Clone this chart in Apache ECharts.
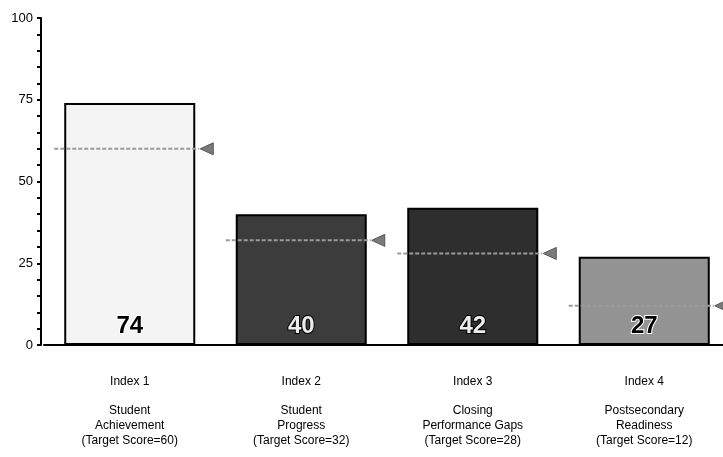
<!DOCTYPE html>
<html>
<head>
<meta charset="utf-8">
<script src="https://cdn.jsdelivr.net/npm/echarts@6/dist/echarts.min.js"></script>
<style>html,body{margin:0;padding:0;background:#fff}#c{width:723px;height:457px}</style>
</head>
<body>
<div id="c"></div>
<script>
const categories = [
  'Index 1\n\nStudent\nAchievement\n(Target Score=60)',
  'Index 2\n\nStudent\nProgress\n(Target Score=32)',
  'Index 3\n\nClosing\nPerformance Gaps\n(Target Score=28)',
  'Index 4\n\nPostsecondary\nReadiness\n(Target Score=12)'
];
const scores = [74, 40, 42, 27];
const targets = [60, 32, 28, 12];
const barColors = ['#f4f4f4', '#3c3c3c', '#2e2e2e', '#939393'];
const labelColors = ['#000', '#ececec', '#ececec', '#000'];
const labelBorders = ['#fff', '#000', '#000', '#fff'];
const yTicks = [0, 25, 50, 75, 100];

const BAR_FRAC = 0.764;
const chart = echarts.init(document.getElementById('c'));
chart.setOption({
  animation: false,
  grid: { left: 44, width: 686, top: 18, bottom: 112, outerBoundsMode: 'none', containLabel: false },
  xAxis: {
    type: 'category',
    data: categories,
    axisLine: { lineStyle: { color: '#000', width: 2 } },
    axisTick: { show: false },
    axisLabel: {
      margin: 29, color: '#000', fontSize: 12, lineHeight: 14.75,
      fontFamily: 'Liberation Sans, Arial, sans-serif', interval: 0, align: 'center'
    }
  },
  yAxis: {
    type: 'value', min: yTicks[0], max: yTicks[yTicks.length - 1], interval: 25,
    offset: 3,
    axisLine: { show: true, lineStyle: { color: '#000', width: 2 } },
    axisTick: { show: true, length: 4, lineStyle: { color: '#000', width: 2 } },
    minorTick: { show: true, splitNumber: 5, length: 4, lineStyle: { color: '#000', width: 2 } },
    splitLine: { show: false },
    axisLabel: { color: '#000', fontSize: 13, margin: 8, fontFamily: 'Liberation Sans, Arial, sans-serif' }
  },
  series: [
    {
      type: 'bar',
      barWidth: (BAR_FRAC * 100) + '%',
      data: scores.map((v, i) => ({
        value: v,
        itemStyle: { color: barColors[i], borderColor: '#000', borderWidth: 2 },
        label: { color: labelColors[i], textBorderColor: labelBorders[i], textBorderWidth: 2 }
      })),
      label: {
        show: true, position: 'insideBottom', distance: 7,
        fontSize: 24, fontWeight: 'bold', fontFamily: 'Liberation Sans, Arial, sans-serif'
      },
      z: 2
    },
    {
      type: 'custom',
      data: targets.map((t, i) => [i, t]),
      z: 5,
      renderItem: function (params, api) {
        const p = api.coord([api.value(0), api.value(1)]);
        const bw = api.size([1, 0])[0] * BAR_FRAC;
        const x0 = p[0] - bw / 2 - 10;
        const x1 = p[0] + bw / 2 + 4;
        return {
          type: 'group',
          children: [
            { type: 'line', shape: { x1: x0, y1: p[1], x2: x1, y2: p[1] },
              style: { stroke: '#9a9a9a', lineWidth: 2, lineDash: [4, 2] } },
            { type: 'polygon', shape: { points: [[x1 + 1, p[1]], [x1 + 14, p[1] - 6], [x1 + 14, p[1] + 6]] },
              style: { fill: '#7a7a7a', stroke: '#555', lineWidth: 1 } }
          ]
        };
      }
    }
  ]
});
</script>
</body>
</html>
